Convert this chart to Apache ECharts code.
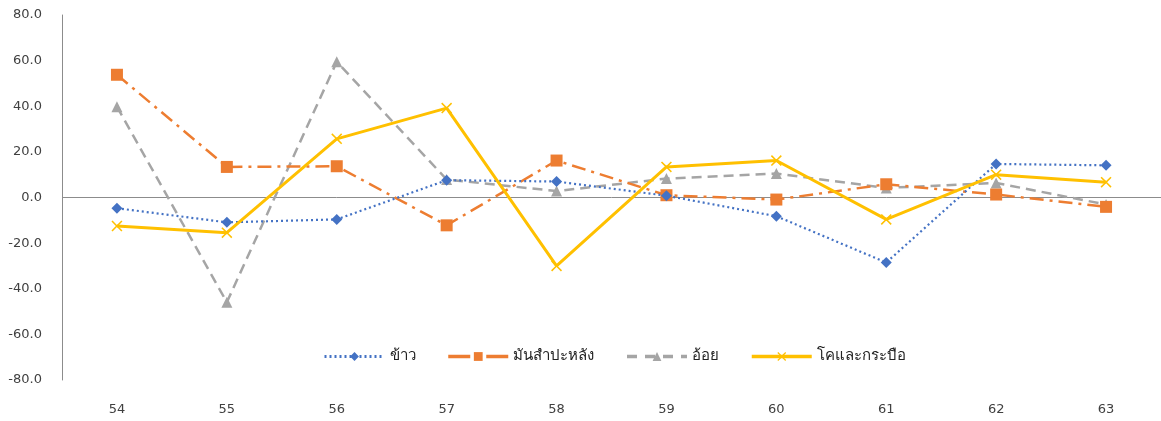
<!DOCTYPE html>
<html>
<head>
<meta charset="utf-8">
<script src="https://cdn.jsdelivr.net/npm/echarts@6/dist/echarts.min.js"></script>
<style>html,body{margin:0;padding:0;background:#fff}#c{width:1161px;height:421px}</style>
</head>
<body>
<div id="c"></div>
<script>
var categories = ['54','55','56','57','58','59','60','61','62','63'];
var rice = [-4.7, -10.9, -9.6, 7.6, 7.0, 0.8, -8.2, -28.5, 14.7, 14.1];
var cassava = [53.8, 13.4, 13.7, -12.2, 16.2, 1.0, -0.9, 5.8, 1.3, -4.1];
var sugarcane = [39.8, -45.9, 59.5, 7.9, 2.8, 8.3, 10.5, 4.2, 6.4, -3.1];
var cattle = [-12.5, -15.4, 25.7, 39.2, -30.0, 13.4, 16.2, -9.6, 10.0, 6.7];
var seriesNames = ['ข้าว', 'มันสำปะหลัง', 'อ้อย', 'โคและกระบือ'];
var yTicks = {min: -80, max: 80, interval: 20};

var xSymbol = 'path://M0,1L1,0L5,4L9,0L10,1L6,5L10,9L9,10L5,6L1,10L0,9L4,5Z';
var font = 'Tahoma, "DejaVu Sans", "Noto Sans", sans-serif';

var chart = echarts.init(document.getElementById('c'), null, {renderer: 'canvas'});
chart.setOption({
  animation: false,
  grid: {left: 62, right: 0, top: 15, bottom: 41, containLabel: false},
  legend: {
    top: 344, left: 318,
    itemWidth: 60, itemHeight: 11, itemGap: 31,
    textStyle: {fontFamily: font, fontSize: 15, color: '#222'},
    data: [
      {name: seriesNames[0], lineStyle: {width: 3, type: [2, 3]}},
      {name: seriesNames[1], lineStyle: {width: 3.5, type: [22, 6, 4, 6]}},
      {name: seriesNames[2], lineStyle: {width: 3.5, type: [10, 8]}},
      {name: seriesNames[3], lineStyle: {width: 3.5}}
    ]
  },
  xAxis: {
    type: 'category', data: categories, boundaryGap: true,
    axisLine: {show: false, onZero: false},
    axisTick: {show: false},
    axisLabel: {margin: 23, fontFamily: font, fontSize: 13, color: '#404040'}
  },
  yAxis: {
    type: 'value', min: yTicks.min, max: yTicks.max, interval: yTicks.interval,
    axisLine: {show: true, lineStyle: {color: '#8c8c8c', width: 1}},
    axisTick: {show: false},
    splitLine: {show: false},
    axisLabel: {margin: 20, fontFamily: font, fontSize: 13, color: '#404040',
      formatter: function (v) { return v.toFixed(1); }}
  },
  series: [
    {name: seriesNames[0], type: 'line', data: rice, symbol: 'diamond', symbolSize: 11,
      itemStyle: {color: '#4472C4'}, lineStyle: {color: '#4472C4', width: 2.2, type: [2, 3]}, z: 4,
      markLine: {silent: true, symbol: ['none', 'none'], label: {show: false},
        lineStyle: {color: '#8c8c8c', width: 1, type: 'solid'}, data: [{yAxis: 0}], z: 1}},
    {name: seriesNames[1], type: 'line', data: cassava, symbol: 'rect', symbolSize: 12,
      itemStyle: {color: '#ED7D31'}, lineStyle: {color: '#ED7D31', width: 2.5, type: [14, 6, 3, 6]}, z: 3},
    {name: seriesNames[2], type: 'line', data: sugarcane, symbol: 'triangle', symbolSize: 11,
      itemStyle: {color: '#A5A5A5'}, lineStyle: {color: '#A5A5A5', width: 2.5, type: [10, 6]}, z: 2},
    {name: seriesNames[3], type: 'line', data: cattle, symbol: xSymbol, symbolSize: 11,
      itemStyle: {color: '#FFC000'}, lineStyle: {color: '#FFC000', width: 3, type: 'solid'}, z: 5}
  ]
});
</script>
</body>
</html>
